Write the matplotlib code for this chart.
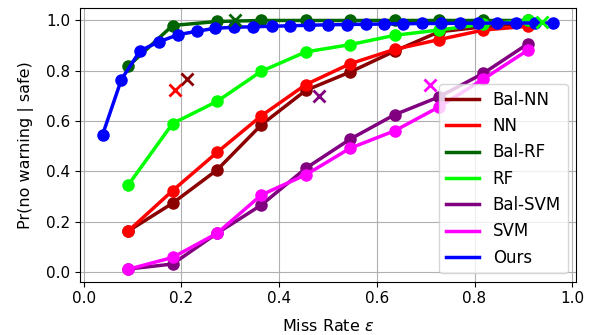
import numpy as np
import matplotlib
matplotlib.use('Agg')
import matplotlib.pyplot as plt

# miss-rate grid for the baselines and for our method
eps_base = np.arange(1, 11) / 11
eps_ours = np.arange(1, 26) / 26

bal_nn = [0.162, 0.273, 0.405, 0.585, 0.722, 0.795, 0.878, 0.955, 0.975, 0.99]
nn = [0.162, 0.323, 0.475, 0.621, 0.745, 0.828, 0.885, 0.924, 0.962, 0.977]
bal_rf = [0.818, 0.98, 0.996, 1.0, 1.0, 1.0, 1.0, 1.0, 1.0, 1.0]
rf = [0.345, 0.59, 0.678, 0.798, 0.875, 0.904, 0.941, 0.962, 0.985, 1.0]
bal_svm = [0.011, 0.031, 0.153, 0.266, 0.412, 0.528, 0.625, 0.696, 0.79, 0.907]
svm = [0.01, 0.057, 0.153, 0.306, 0.386, 0.492, 0.561, 0.656, 0.767, 0.882]
ours = [0.545, 0.765, 0.88, 0.915, 0.943, 0.957, 0.969, 0.973, 0.975, 0.977,
        0.979, 0.981, 0.983, 0.984, 0.985, 0.986, 0.987, 0.988, 0.988, 0.989,
        0.989, 0.99, 0.99, 0.99, 0.99]

# single operating points of the plain classifiers (x markers)
pt_names = ['Bal-NN', 'NN', 'Bal-RF', 'RF', 'Bal-SVM', 'SVM']
pt_eps = [0.212, 0.187, 0.31, 0.938, 0.481, 0.708]
pt_pr = [0.767, 0.725, 1.0, 0.995, 0.701, 0.745]

names = ['Bal-NN', 'NN', 'Bal-RF', 'RF', 'Bal-SVM', 'SVM', 'Ours']
colors = ['darkred', 'red', 'darkgreen', 'lime', 'purple', 'magenta', 'blue']
curves = [bal_nn, nn, bal_rf, rf, bal_svm, svm, ours]

fig, ax = plt.subplots(figsize=(5.99, 3.35), dpi=100)
fig.subplots_adjust(left=0.1336, right=0.9616, bottom=0.159, top=0.976)

for name, c, y in zip(names, colors, curves):
    x = eps_ours if name == 'Ours' else eps_base
    ax.plot(x, y, '-', color=c, lw=2.5, label=name)
    ax.plot(x, y, 'o', color=c, ms=8)

for name, e, p in zip(pt_names, pt_eps, pt_pr):
    c = colors[names.index(name)]
    ax.plot(e, p, 'x', color=c, ms=8, mew=2)

ax.set_xlabel('Miss Rate $\\epsilon$', fontsize=11.5, labelpad=8)
ax.set_ylabel('Pr(no warning | safe)', fontsize=11.5, labelpad=9)
ax.set_xticks(np.arange(0, 1.01, 0.2))
ax.set_yticks(np.arange(0, 1.01, 0.2))
ax.tick_params(labelsize=11)
ax.grid(True)
ax.legend(loc='lower right', fontsize=12)

plt.savefig('out.png', dpi=100)
